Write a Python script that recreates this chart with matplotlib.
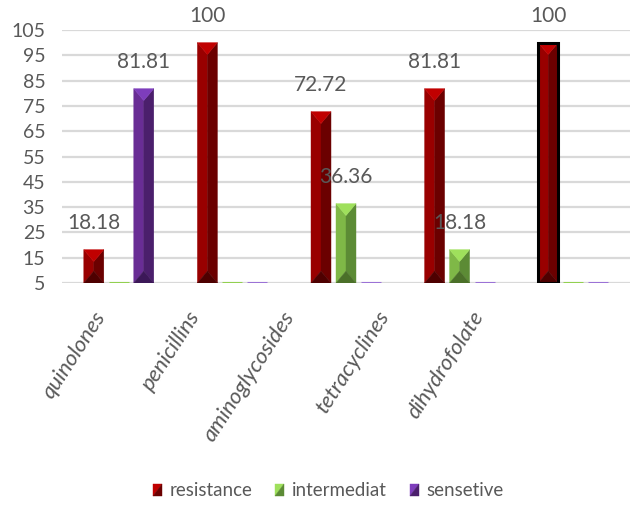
import matplotlib
matplotlib.use("Agg")
import matplotlib.pyplot as plt
from matplotlib.patches import Polygon, Rectangle
from matplotlib.legend_handler import HandlerBase
import numpy as np

# ---------------- data ----------------
categories = ["quinolones", "penicillins", "aminoglycosides", "tetracyclines", "dihydrofolate"]
series_names = ["resistance", "intermediat", "sensetive"]
resistance = [18.18, 100, 72.72, 81.81, 100]
intermediat = [0, 0, 36.36, 18.18, 0]
sensetive = [81.81, 0, 0, 0, 0]
yticks = [5, 15, 25, 35, 45, 55, 65, 75, 85, 95, 105]

# ---------------- style ----------------
# (top, left, right, bottom) face colours of bevelled bars
face_colors = [
    ("#C00000", "#990000", "#6B0000", "#4E0000"),
    ("#9FE05C", "#7FB847", "#5C8B35", "#4B7029"),
    ("#7E3DBC", "#692D95", "#4B1F6C", "#3C1858"),
]
zero_line_colors = ["#7A0000", "#92D050", "#9B72D6"]
text_gray = "#595959"
grid_gray = "#D9D9D9"
base = 5
bar_w = 0.176
offsets = [-0.22, 0.0, 0.22]
bevel = 4.7  # depth of top / bottom triangles in data units

font = ["Lato", "DejaVu Sans"]

fig = plt.figure(figsize=(6.3, 5.05), dpi=100)
ax = fig.add_axes([62 / 630, 1 - 283 / 505, 568 / 630, 253 / 505])
ax.set_xlim(-0.5, 4.5)
ax.set_ylim(base, 105)

for s in ax.spines.values():
    s.set_visible(False)
ax.set_yticks(yticks)
ax.yaxis.grid(True, color=grid_gray, linewidth=1.6)
ax.set_axisbelow(True)
ax.tick_params(axis="y", length=0, pad=12, labelcolor=text_gray, labelsize=14)
for lab in ax.get_yticklabels():
    lab.set_fontfamily(font)
ax.set_xticks([])

x = np.arange(len(categories))
all_series = [resistance, intermediat, sensetive]

for si, vals in enumerate(all_series):
    top_c, left_c, right_c, bot_c = face_colors[si]
    for ci, v in enumerate(vals):
        xc = x[ci] + offsets[si]
        x0, x1 = xc - bar_w / 2, xc + bar_w / 2
        if v <= base:
            ax.plot([x0, x1], [base, base], color=zero_line_colors[si],
                    linewidth=2.2, solid_capstyle="butt", zorder=3)
            continue
        top = v
        d = min(bevel, (top - base) / 2)
        polys = [
            ([(x0, top), (xc, top - d), (xc, base + d), (x0, base)], left_c),
            ([(xc, top - d), (x1, top), (x1, base), (xc, base + d)], right_c),
            ([(x0, top), (x1, top), (xc, top - d)], top_c),
            ([(x0, base), (x1, base), (xc, base + d)], bot_c),
        ]
        for pts, c in polys:
            ax.add_patch(Polygon(pts, closed=True, facecolor=c, edgecolor=c,
                                 linewidth=0.3, zorder=3))
        if ci == len(vals) - 1 and si == 0:
            ax.add_patch(Rectangle((x0, base), bar_w, top - base, fill=False,
                                   edgecolor="black", linewidth=2.2, zorder=4))
        ax.annotate(f"{v:g}", xy=(xc, top), xytext=(0, 19),
                    textcoords="offset points", ha="center", va="center",
                    fontsize=15, color=text_gray, family=font, zorder=5)

# category labels (rotated, italic)
for ci, name in enumerate(categories):
    xf = (101 - 62 + 94.5 * ci) / 568
    ax.text(xf, -0.12, name, transform=ax.transAxes, rotation=57,
            rotation_mode="anchor", ha="right", va="center",
            fontsize=16, style="italic", color=text_gray, family=font)


# legend with bevelled square markers
class BevelHandler(HandlerBase):
    def __init__(self, light, dark):
        super().__init__()
        self.light, self.dark = light, dark

    def create_artists(self, legend, orig_handle, xdescent, ydescent,
                       width, height, fontsize, trans):
        w = 6.5
        h = 9.0
        x0 = width - w
        y0 = (height - h) / 2 - ydescent
        p1 = Polygon([(x0, y0), (x0, y0 + h), (x0 + w, y0 + h)], closed=True,
                     facecolor=self.light, edgecolor=self.light, lw=0.3, transform=trans)
        p2 = Polygon([(x0, y0), (x0 + w, y0), (x0 + w, y0 + h)], closed=True,
                     facecolor=self.dark, edgecolor=self.dark, lw=0.3, transform=trans)
        return [p1, p2]


handles = [Rectangle((0, 0), 1, 1) for _ in series_names]
handler_map = {h: BevelHandler(face_colors[i][0], face_colors[i][2])
               for i, h in enumerate(handles)}
leg = fig.legend(handles, series_names, handler_map=handler_map,
                 loc="center", bbox_to_anchor=(328 / 630, 1 - 491 / 505),
                 ncol=3, frameon=False, handlelength=0.5, handletextpad=0.4,
                 columnspacing=1.2, prop={"family": font, "size": 13.5})
for t in leg.get_texts():
    t.set_color(text_gray)

fig.savefig("out.png", dpi=100)
